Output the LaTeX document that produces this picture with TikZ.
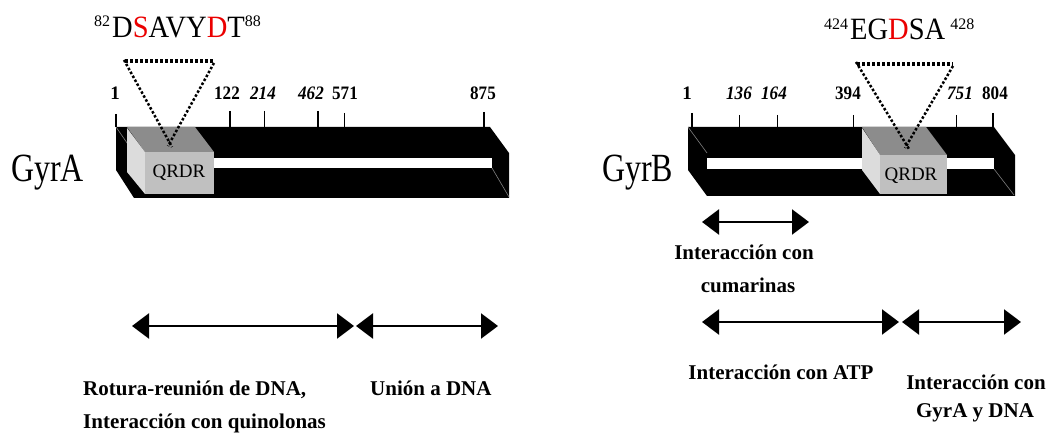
\documentclass[tikz,border=0pt]{standalone}
\usepackage{fontspec}
\setmainfont{Liberation Serif}
\usetikzlibrary{arrows.meta}
\definecolor{seqred}{RGB}{235,0,0}
\definecolor{qtop}{RGB}{140,140,140}
\definecolor{qfront}{RGB}{192,192,192}
\definecolor{qside}{RGB}{220,220,220}
\begin{document}
\begin{tikzpicture}[x=1pt,y=-1pt,
  barshape/.style={fill=black},
  faint/.style={draw=black!50,line width=0.6pt},
  qtopf/.style={fill=qtop},
  qfrontf/.style={fill=qfront},
  qsidef/.style={fill=qside},
  qlabel/.style={font=\fontsize{19}{19}\selectfont, inner sep=0pt},
  tickthick/.style={line width=1.6pt},
  tickthin/.style={line width=0.8pt},
  numlabel/.style={font=\fontsize{19}{19}\selectfont\bfseries, anchor=base, inner sep=0pt},
  numital/.style={font=\fontsize{19}{19}\selectfont\bfseries\itshape, anchor=base, inner sep=0pt},
  dottop/.style={line width=4pt, dash pattern=on 3pt off 2pt},
  dotdiag/.style={line width=2.5pt, dash pattern=on 2.5pt off 2pt},
  dbl/.style={line width=2.5pt, {Triangle[length=17pt,width=25pt]}-{Triangle[length=17pt,width=25pt]}},
  domlabel/.style={font=\fontsize{21}{21}\selectfont\bfseries, inner sep=0pt},
  protlabel/.style={font=\fontsize{40}{40}\selectfont, anchor=base west, inner sep=0pt},
  seq/.style={anchor=base west, inner sep=0pt, font=\fontsize{31}{31}\selectfont},
]
\useasboundingbox (0,0) rectangle (1049,438);
\fill[white] (0,0) rectangle (1049,438);

% ---------------- GyrA ----------------
\fill[barshape] (116,127) -- (490,127) -- (509,153) -- (509,198) -- (134,198) -- (116,170) -- cycle;
\fill[white] (213,158) rectangle (492,168);
\draw[faint] (116,127) -- (134,153);
\draw[faint] (492,168) -- (509,197);
% QRDR box
\fill[qtopf] (127,127) -- (195,127) -- (214,152) -- (145,152) -- cycle;
\fill[qsidef] (127,128) -- (145,152) -- (145,194) -- (127,172) -- cycle;
\fill[qfrontf] (145,152) rectangle (214,194);
\node[qlabel] (qrdrA) at (179,173) {QRDR};

% ticks GyrA
\draw[tickthick] (116,114) -- (116,127);
\draw[tickthick] (230,111) -- (230,127);
\draw[tickthin]  (264,111) -- (264,127);
\draw[tickthick] (318,111) -- (318,127);
\draw[tickthin]  (344,113) -- (344,127);
\draw[tickthick] (484,112) -- (484,127);
\node[numlabel] (a1) at (115,100) {1};
\node[numlabel] (a122) at (227,100) {\scalebox{0.9}[1]{122}};
\node[numital] (a214) at (263,100) {\scalebox{0.9}[1]{214}};
\node[numital] (a462) at (311,100) {\scalebox{0.9}[1]{462}};
\node[numlabel] (a571) at (345,100) {\scalebox{0.9}[1]{571}};
\node[numlabel] (a875) at (483,100) {\scalebox{0.9}[1]{875}};

% dotted triangle GyrA
\draw[dottop] (125,61) -- (214,61);
\draw[dotdiag] (124,60) -- (172,147);
\draw[dotdiag] (214,63) -- (168,146);

% sequence GyrA
\node[seq] (seqA) at (94,38) {\raisebox{11pt}{\fontsize{16}{16}\selectfont 82}\hspace{2pt}\scalebox{0.92}[1]{D\textcolor{seqred}{S}AVY\textcolor{seqred}{D}T}\raisebox{11pt}{\fontsize{16}{16}\selectfont 88}};

\node[protlabel] (gyrA) at (11,182) {\scalebox{0.8}[1]{GyrA}};

% domain arrows GyrA
\coordinate (a1s) at (132,326);
\coordinate (a1e) at (354,326);
\coordinate (a2s) at (356,326);
\coordinate (a2e) at (498,326);
\draw[dbl] (a1s) -- (a1e);
\draw[dbl] (a2s) -- (a2e);
\node[domlabel, anchor=base west] (rot1) at (83,395) {Rotura-reunión de DNA,};
\node[domlabel, anchor=base west] (rot2) at (83,428) {Interacción con quinolonas};
\node[domlabel, anchor=base west] (union) at (370,395) {Unión a DNA};

% ---------------- GyrB ----------------
\fill[barshape] (688,127) -- (994,127) -- (1015,155) -- (1015,196) -- (707,196) -- (688,170) -- cycle;
\fill[white] (707,158) rectangle (994,169);
\draw[faint] (688,127) -- (707,153);
\draw[faint] (994,169) -- (1014,195);
% QRDR box
\fill[qtopf] (862,127) -- (926,127) -- (947,155) -- (880,155) -- cycle;
\fill[qsidef] (862,128) -- (880,155) -- (880,194) -- (862,170) -- cycle;
\fill[qfrontf] (880,155) rectangle (947,194);
\node[qlabel] (qrdrB) at (911,176) {QRDR};

% ticks GyrB
\draw[tickthick] (692,113) -- (692,127);
\draw[tickthin]  (739,115) -- (739,127);
\draw[tickthin]  (777,115) -- (777,127);
\draw[tickthin]  (853,115) -- (853,127);
\draw[tickthin]  (956,115) -- (956,127);
\draw[tickthick] (993,113) -- (993,127);
\node[numlabel] (b1) at (687,100) {1};
\node[numital] (b136) at (739,100) {\scalebox{0.9}[1]{136}};
\node[numital] (b164) at (774,100) {\scalebox{0.9}[1]{164}};
\node[numlabel] (b394) at (848,100) {\scalebox{0.9}[1]{394}};
\node[numital] (b751) at (960,100) {\scalebox{0.9}[1]{751}};
\node[numlabel] (b804) at (995,100) {\scalebox{0.9}[1]{804}};

% dotted triangle GyrB
\draw[dottop] (857,64) -- (953,64);
\draw[dotdiag] (856,62) -- (909,149);
\draw[dotdiag] (953,66) -- (905,148);

% sequence GyrB
\node[seq] (seqB) at (824,40) {\raisebox{10pt}{\fontsize{16}{16}\selectfont 424}\hspace{2pt}\scalebox{0.92}[1]{EG\textcolor{seqred}{D}SA}\hspace{5pt}\raisebox{10pt}{\fontsize{16}{16}\selectfont 428}};

\node[protlabel] (gyrB) at (602,182) {\scalebox{0.8}[1]{GyrB}};

% domain arrows GyrB
\coordinate (b1s) at (702,222);
\coordinate (b1e) at (809,222);
\coordinate (b2s) at (702,322);
\coordinate (b2e) at (899,322);
\coordinate (b3s) at (902,322);
\coordinate (b3e) at (1021,322);
\draw[dbl] (b1s) -- (b1e);
\draw[dbl] (b2s) -- (b2e);
\draw[dbl] (b3s) -- (b3e);
\node[domlabel, anchor=base] (cum1) at (744,260) {Interacción con};
\node[domlabel, anchor=base] (cum2) at (748,292) {cumarinas};
\node[domlabel, anchor=base] (atp) at (781,379) {Interacción con ATP};
\node[domlabel, anchor=base] (gy1) at (976,389) {Interacción con};
\node[domlabel, anchor=base] (gy2) at (975,417) {GyrA y DNA};
\end{tikzpicture}
\end{document}
